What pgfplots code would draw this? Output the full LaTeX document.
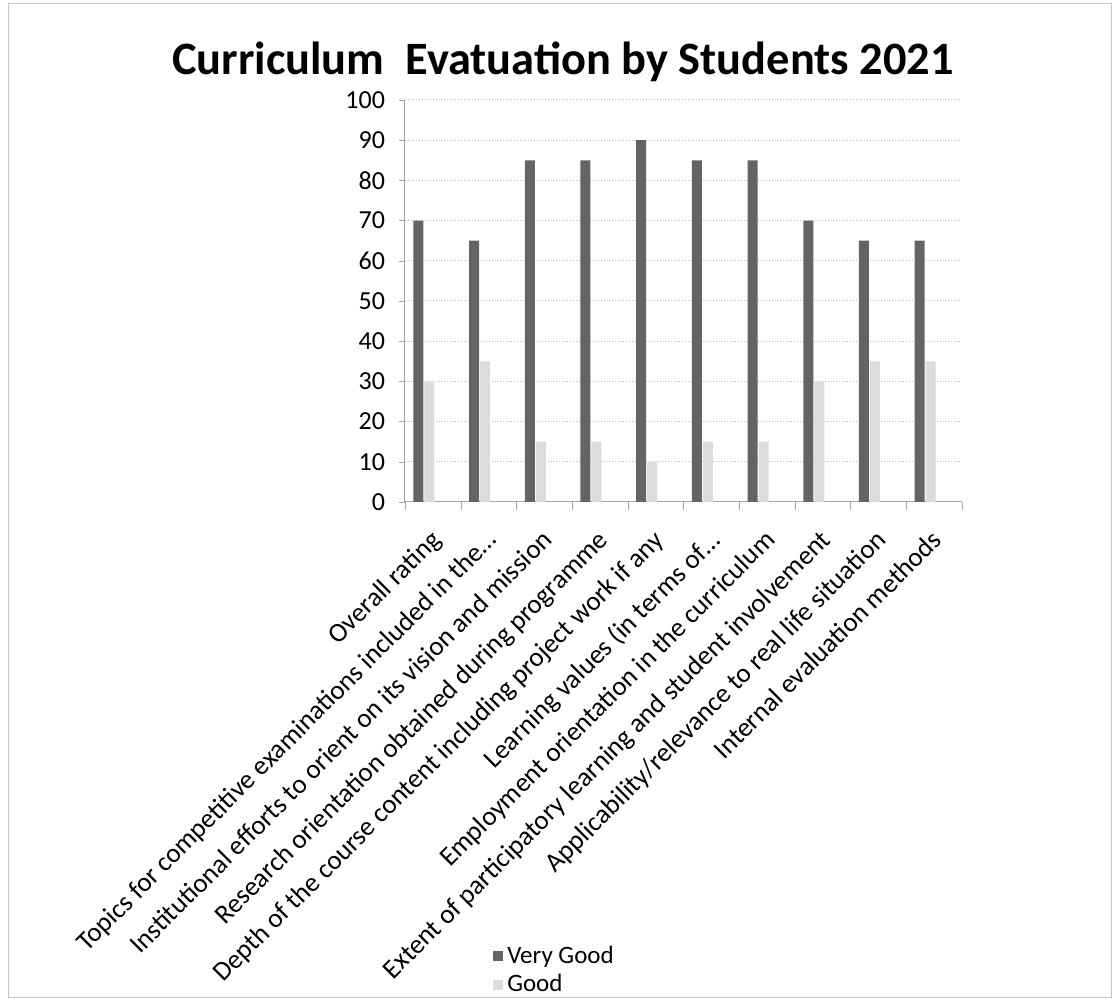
\documentclass[border=0pt]{standalone}
\usepackage{pgfplots}
\pgfplotsset{compat=1.18}
\usepackage{fontspec}
\setmainfont{Carlito}
\definecolor{darkbar}{HTML}{646464}
\definecolor{lightbar}{HTML}{DCDCDC}
\begin{document}
\begin{tikzpicture}[x=0.5pt,y=0.5pt]
% frame in reference pixels (y measured from the bottom)
\path[use as bounding box] (0,0) rectangle (1115,999);
\draw[gray!45, line width=0.4pt] (8,2) rectangle (1111,996);
\node[font=\bfseries\fontsize{23.2}{27}\selectfont, anchor=base] at (563,924) {Curriculum\ \ Evatuation by Students 2021};
\begin{axis}[
    at={(202.5pt,248.5pt)}, anchor=south west,
    scale only axis, width=278.5pt, height=201pt,
    xmin=-0.5, xmax=9.5, ymin=0, ymax=100,
    axis x line*=bottom, axis y line*=left,
    axis line style={gray!70, line width=0.5pt},
    xtick={0,...,9},
    xticklabels={Overall rating,
        Topics for competitive examinations included in the…,
        Institutional efforts to orient on its vision and mission,
        Research orientation obtained during programme,
        Depth of the course content including project work if any,
        Learning values (in terms of…,
        Employment orientation in the curriculum,
        Extent of participatory learning and student involvement,
        Applicability/relevance to real life situation,
        Internal evaluation methods},
    major x tick style={draw=none},
    minor xtick={-0.5,0.5,...,9.5},
    minor tick length=4pt,
    major tick length=3pt,
    tick align=outside,
    tick style={gray!70},
    ytick={0,10,...,100},
    ymajorgrids, grid style={gray!55, densely dotted, line width=0.5pt},
    /pgf/number format/assume math mode=true,
    yticklabel style={font=\fontsize{13}{15}\selectfont, xshift=-3.5pt},
    xticklabel style={font=\fontsize{13.5}{16}\selectfont, rotate=45,
        anchor=north east, inner sep=1pt, yshift=-4.6pt, xshift=-7.4pt},
    legend style={at={(0.147,-1.084)}, anchor=north west, draw=none, fill=none,
        font=\fontsize{12.5}{15}\selectfont, legend cell align=left},
    legend image code/.code={\fill[#1] (0pt,-2.5pt) rectangle (5pt,2.5pt);},
]
\addplot[ybar, bar width=5pt, bar shift=-7.25pt, fill=darkbar, draw=none] coordinates {
    (0,70) (1,65) (2,85) (3,85) (4,90) (5,85) (6,85) (7,70) (8,65) (9,65)
};
\addlegendentry{Very Good}
\addplot[ybar, bar width=5pt, bar shift=-1.75pt, fill=lightbar, draw=none] coordinates {
    (0,30) (1,35) (2,15) (3,15) (4,10) (5,15) (6,15) (7,30) (8,35) (9,35)
};
\addlegendentry{Good}
\end{axis}
\end{tikzpicture}
\end{document}
